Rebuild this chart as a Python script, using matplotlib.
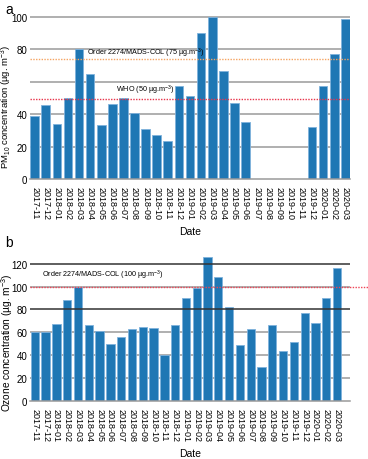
import numpy as np
import matplotlib.pyplot as plt

plt.rcParams['font.family'] = ['Liberation Sans', 'DejaVu Sans']
plt.rcParams['mathtext.fontset'] = 'custom'
plt.rcParams['mathtext.rm'] = 'Liberation Sans'
plt.rcParams['mathtext.it'] = 'Liberation Sans'

# Data
months = ['2017-11', '2017-12', '2018-01', '2018-02', '2018-03', '2018-04',
          '2018-05', '2018-06', '2018-07', '2018-08', '2018-09', '2018-10',
          '2018-11', '2018-12', '2019-01', '2019-02', '2019-03', '2019-04',
          '2019-05', '2019-06', '2019-07', '2019-08', '2019-09', '2019-10',
          '2019-11', '2019-12', '2020-01', '2020-02', '2020-03']
pm10 = [39, 45.5, 34, 50, 80, 65, 33, 46.5, 50, 41, 31, 27, 23.5, 57.5, 51,
        90, 100, 66.5, 47, 35, np.nan, np.nan, np.nan, np.nan, np.nan,
        32, 57.5, 77, 98.5]
ozone = [60, 60, 67, 88, 100, 66, 61.5, 49.5, 56, 62.5, 64.5, 64, 40, 66.5,
         90, 99, 126, 108.5, 82.5, 49, 62.5, 30, 66.5, 43.5, 51.5, 76.5, 68,
         90, 116]
pm10_order, pm10_who = 74, 49.5      # dotted limit lines as drawn
ozone_order = 99.5

bar_color = '#1f77b4'
edge_color = '#7fb2dc'
x = np.arange(len(months))

fig = plt.figure(figsize=(3.68, 4.6), dpi=100)
ax1 = fig.add_axes([30/368, 1 - 180/460, 320/368, 163/460])
ax2 = fig.add_axes([30/368, 1 - 402/460, 320/368, 145.3/460])

def style(ax, grid_vals, dark_vals=()):
    for v in grid_vals:
        c = '#333333' if v in dark_vals else '#9a9a9a'
        ax.axhline(v, color=c, lw=1.1, zorder=3 if v in dark_vals else 0)
    for s in ['top', 'right', 'left']:
        ax.spines[s].set_visible(False)
    ax.spines['bottom'].set_color('#9a9a9a')
    ax.spines['bottom'].set_linewidth(1.1)
    ax.set_xticks(x)
    ax.set_xticklabels(months, rotation=270, fontsize=6.5)
    ax.tick_params(axis='x', length=0, pad=5)
    ax.tick_params(axis='y', length=0, pad=2, labelsize=7)
    ax.set_xlabel('Date', fontsize=7.5, labelpad=5)

# Panel a: PM10
ax1.bar(x, pm10, width=0.78, color=bar_color, edgecolor=edge_color, lw=0.6, zorder=2)
style(ax1, [20, 40, 60, 80, 100])
ax1.set_xlim(-0.42, 28.42)
ax1.set_ylim(0, 100.5)
ax1.set_yticks([0, 20, 40, 60, 80, 100])
ax1.set_yticklabels(['0', '20', '40', '', '80', '100'])
ax1.axhline(pm10_order, color='#f5a462', ls=(0, (1, 1)), lw=1.0, zorder=4)
ax1.axhline(pm10_who, color='#e8334a', ls=(0, (1, 1)), lw=1.0, zorder=4)
ax1.text(4.7, 78, 'Order 2274/MADS-COL (75 µg.m$^{-3}$)', fontsize=5.2, va='center', zorder=5)
ax1.text(7.3, 55.5, 'WHO (50 µg.m$^{-3}$)', fontsize=5.2, va='center', zorder=5)
ax1.set_ylabel('PM$_{10}$ concentration (µg. m$^{-3}$)', fontsize=6.8, va='center')
ax1.yaxis.set_label_coords(-0.074, 0.45)

# Panel b: Ozone
ax2.bar(x, ozone, width=0.77, color=bar_color, edgecolor=edge_color, lw=0.6, zorder=2)
style(ax2, [20, 40, 60, 80, 100, 120], dark_vals=(80, 120))
ax2.set_xlim(-0.45, 29.2)
ax2.set_ylim(0, 127)
ax2.set_yticks([0, 20, 40, 60, 80, 100, 120])
ax2.axhline(ozone_order, xmax=1.06, color='#ee4455', ls=(0, (1, 1)), lw=1.0,
            zorder=4, clip_on=False)
ax2.text(0.66, 111, 'Order 2274/MADS-COL (100 µg.m$^{-3}$)', fontsize=5.2, va='center', zorder=5)
ax2.set_ylabel('Ozone concentration (µg. m$^{-3}$)', fontsize=7.3, va='center')
ax2.yaxis.set_label_coords(-0.072, 0.41)

fig.text(5/368, 1 - 10/460, 'a', fontsize=10, va='center')
fig.text(5/368, 1 - 243/460, 'b', fontsize=10, va='center')

fig.savefig('out.png', dpi=100)
